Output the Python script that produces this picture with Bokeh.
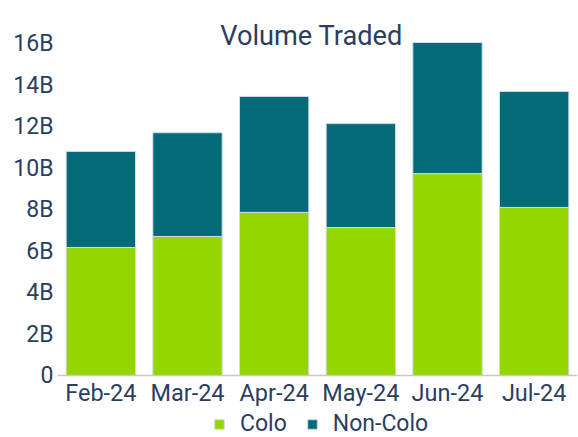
from bokeh.plotting import figure
from bokeh.models import ColumnDataSource, FactorRange, Range1d, Legend, LegendItem, FixedTicker, Label
from bokeh.embed import file_html
from bokeh.resources import INLINE

months = ["Feb-24", "Mar-24", "Apr-24", "May-24", "Jun-24", "Jul-24"]
colo = [6.17, 6.70, 7.86, 7.13, 9.73, 8.10]        # billions
non_colo = [4.63, 5.00, 5.59, 5.01, 6.32, 5.59]    # billions
y_ticks = [0, 2, 4, 6, 8, 10, 12, 14, 16]
y_tick_labels = ["0", "2B", "4B", "6B", "8B", "10B", "12B", "14B", "16B"]
title_text = "Volume Traded"

FONT = "Roboto"
TXT = "#2a3f5f"
GREEN = "#96d600"
TEAL = "#036b78"

# layout (pixels): the frame fills the figure height; zero sits 62px above the bottom,
# 20.75px per billion
W, H = 578, 437
PX_PER_UNIT = 20.75
ZERO_FROM_BOTTOM = 62
y_lo = -ZERO_FROM_BOTTOM / PX_PER_UNIT
y_hi = (H - ZERO_FROM_BOTTOM) / PX_PER_UNIT

src = ColumnDataSource(dict(month=months, Colo=colo, NonColo=non_colo))

p = figure(x_range=FactorRange(*months, range_padding=0),
           y_range=Range1d(y_lo, y_hi),
           width=W, height=H,
           output_backend="svg", toolbar_location=None,
           min_border_left=57, min_border_right=1, min_border_top=0, min_border_bottom=0)
p.title.visible = False

rs = p.vbar_stack(["Colo", "NonColo"], x="month", width=0.8, source=src,
                  color=[GREEN, TEAL], line_color="#d3dce4", line_width=1)

p.outline_line_color = None
p.xgrid.grid_line_color = None
p.ygrid.grid_line_color = None

p.yaxis.ticker = FixedTicker(ticks=y_ticks)
p.yaxis.major_label_overrides = {t: l for t, l in zip(y_ticks, y_tick_labels)}
for ax in (p.xaxis[0], p.yaxis[0]):
    ax.major_tick_line_color = None
    ax.minor_tick_line_color = None
    ax.major_tick_out = 0
    ax.major_tick_in = 0
    ax.minor_tick_out = 0
    ax.minor_tick_in = 0
    ax.axis_label_standoff = 0
    ax.major_label_text_font = FONT
    ax.major_label_text_color = TXT
p.yaxis.major_label_text_font_size = "23px"
p.xaxis.major_label_text_font_size = "23.5px"
p.yaxis.axis_line_color = None
p.yaxis.major_label_standoff = 4
p.xaxis.fixed_location = 0
p.xaxis.axis_line_color = "#c8c8c8"
p.xaxis.axis_line_width = 1.5
p.xaxis.major_label_standoff = 3

title = Label(x=254, y=402, x_units="screen", y_units="screen",
              text=title_text, text_align="center", text_baseline="alphabetic",
              text_font=FONT, text_font_size="27.2px", text_color=TXT)
p.add_layout(title)

legend = Legend(items=[LegendItem(label="Colo", renderers=[rs[0]]),
                       LegendItem(label="Non-Colo", renderers=[rs[1]])],
                orientation="horizontal", location=(156, 0),
                label_text_font=FONT, label_text_font_size="23px", label_text_color=TXT,
                glyph_width=12, glyph_height=12, label_standoff=15, spacing=19,
                padding=0, margin=0, label_height=20,
                background_fill_alpha=0, border_line_color=None)
p.add_layout(legend, "center")

open("out.html", "w").write(file_html(p, INLINE))
